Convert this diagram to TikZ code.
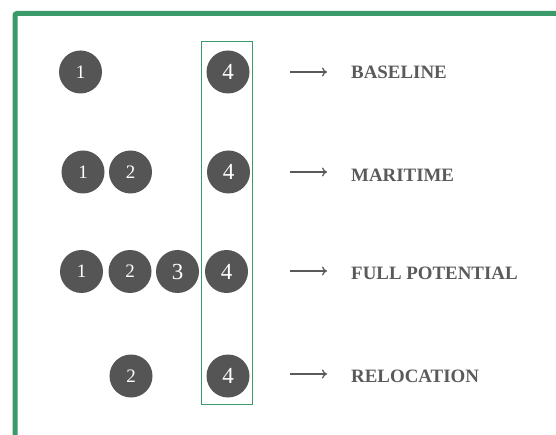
\documentclass[tikz,border=0pt]{standalone}
\usepackage{fontspec}
\newfontfamily\labelfont{Liberation Serif}
\usetikzlibrary{arrows.meta}
\definecolor{frameGreen}{HTML}{3A9A6A}
\definecolor{discGray}{HTML}{555555}
\definecolor{textGray}{HTML}{5A5A5A}
\tikzset{
  disc/.style={circle, fill=discGray, minimum size=43pt, inner sep=0pt,
    text=white, font=\labelfont\fontsize{19}{19}\selectfont},
  bigdisc/.style={disc, font=\labelfont\fontsize{23}{23}\selectfont},
  scenario/.style={anchor=west, inner sep=0pt, text=textGray,
    font=\labelfont\bfseries\fontsize{18.9}{18.9}\selectfont},
  pointer/.style={draw=textGray, line width=1.3pt, -{To[length=5pt,width=9pt]}},
}
\begin{document}
\begin{tikzpicture}[x=1pt, y=-1pt]
  \useasboundingbox (0,0) rectangle (556,435);
  \fill[white] (0,0) rectangle (556,435);
  % outer frame, open to the right and bottom
  \draw[frameGreen, line width=5pt, rounded corners=2pt] (15,440) -- (15,13.5) -- (560,13.5);
  % column holding the always-present element 4
  \draw[frameGreen, line width=1.6pt] (201.5,41.5) rectangle (252.5,404.5);

  % row 1
  \node[disc] (r1a) at (80.5,72) {1};
  \node[bigdisc] (r1d) at (228,72) {4};
  % row 2
  \node[disc] (r2a) at (83,172) {1};
  \node[disc] (r2b) at (130.5,172) {2};
  \node[bigdisc] (r2d) at (228.5,172) {4};
  % row 3
  \node[disc] (r3a) at (81.5,271.5) {1};
  \node[disc] (r3b) at (130,271.5) {2};
  \node[bigdisc] (r3c) at (177.5,271.5) {3};
  \node[bigdisc] (r3d) at (226.5,271.5) {4};
  % row 4
  \node[disc] (r4b) at (131,376) {2};
  \node[bigdisc] (r4d) at (228,376) {4};

  % scenario names
  \node[scenario] (l1) at (351,72) {BASELINE};
  \node[scenario] (l2) at (351,175) {MARITIME};
  \node[scenario] (l3) at (351,273) {FULL POTENTIAL};
  \node[scenario] (l4) at (351,376) {RELOCATION};

  % arrows leading to the names
  \foreach \i/\y in {1/72,2/172,3/271,4/374}{
    \coordinate (s\i) at (290,\y);
    \coordinate (e\i) at (327,\y);
    \draw[pointer] (s\i) -- (e\i);
  }
\end{tikzpicture}
\end{document}
